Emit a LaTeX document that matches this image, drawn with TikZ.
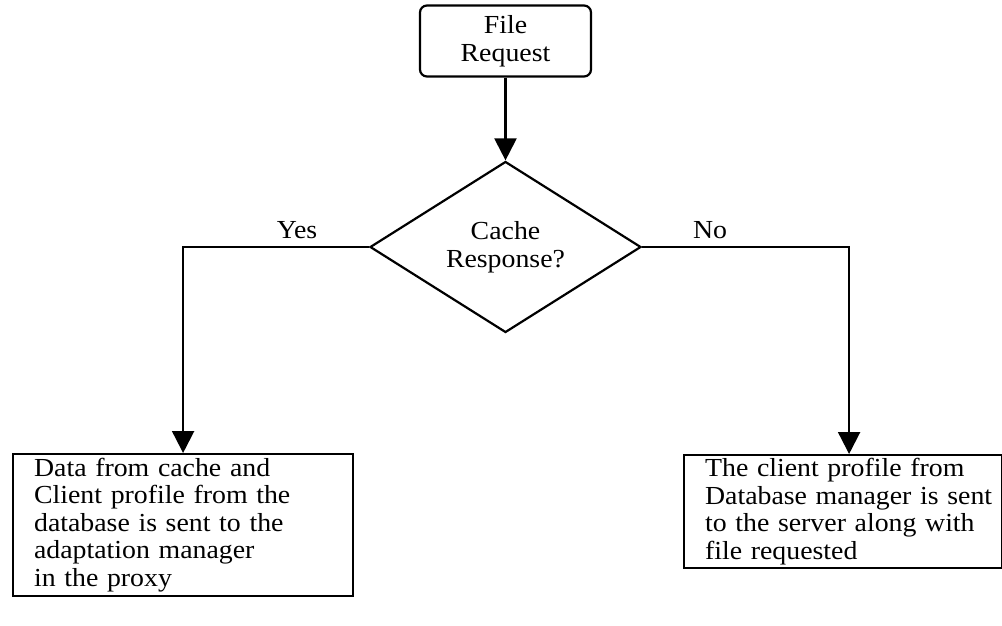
\documentclass[tikz,border=0pt]{standalone}
\usepackage{fontspec}
\setmainfont{Liberation Serif}[FakeStretch=1.07]
\usetikzlibrary{shapes.geometric,arrows.meta}

\tikzset{
  flowfont/.style={font=\fontsize{26}{27.5}\selectfont},
  startbox/.style={draw, line width=2.2pt, rounded corners=7pt, align=center,
    minimum width=171pt, minimum height=71pt, inner sep=0pt, flowfont},
  decision/.style={draw, diamond, line width=2.2pt, align=center,
    minimum width=271pt, minimum height=171pt, inner sep=0pt, flowfont},
  textbox/.style={draw, line width=2.2pt, align=left, anchor=north west,
    inner xsep=21pt, inner ysep=0pt, flowfont},
  branchlabel/.style={flowfont, inner sep=0pt},
  arr/.style={line width=2.2pt, -{Triangle[length=22pt,width=22pt]}}
}

\begin{document}
\begin{tikzpicture}[x=1pt,y=-1pt]
  \useasboundingbox (0,0) rectangle (1002,626);

  % request and decision
  \node[startbox] (req) at (505.5,41) {File\\Request};
  \node[decision] (dec) at (505.5,247) {Cache\\Response?};

  % outcome boxes
  \node[textbox, minimum width=340pt, minimum height=142pt, text width=298pt] (yesbox) at (12,453)
    {Data from cache and\\Client profile from the\\database is sent to the\\adaptation manager\\in the proxy};
  \node[textbox, minimum width=318pt, minimum height=113pt, text width=276pt] (nobox) at (683,454)
    {\mbox{The client profile from}\\\mbox{Database manager is sent}\\\mbox{to the server along with}\\file requested};

  % connectors
  \draw[arr] (req) -- (dec);
  \draw[arr] (dec.west) -| (yesbox.north);
  \draw[arr] (dec.east) -| ([xshift=6pt]nobox.north);

  % branch labels
  \node[branchlabel] (yes) at (297,230) {Yes};
  \node[branchlabel] (no) at (710,230) {No};
\end{tikzpicture}
\end{document}
